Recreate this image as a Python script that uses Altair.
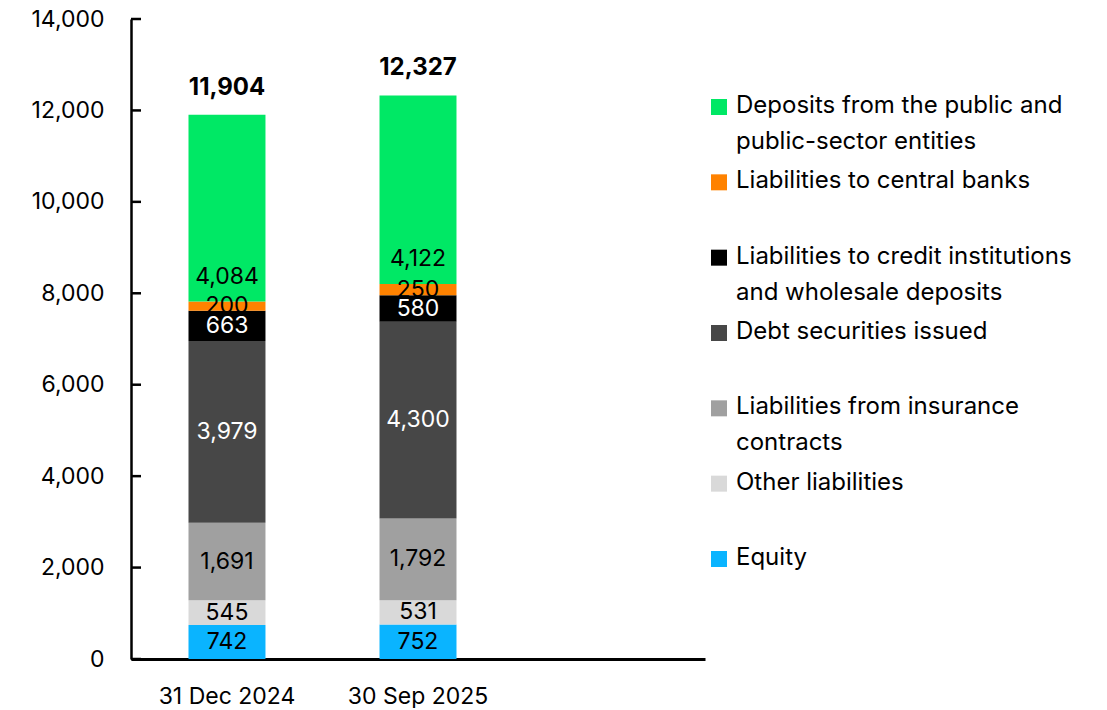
import altair as alt
import pandas as pd

DATES = ["31 Dec 2024", "30 Sep 2025"]
SERIES = [  # bottom to top
    "Equity",
    "Other liabilities",
    "Liabilities from insurance contracts",
    "Debt securities issued",
    "Liabilities to credit institutions and wholesale deposits",
    "Liabilities to central banks",
    "Deposits from the public and public-sector entities",
]
LEGEND_LABELS = [
    "Equity",
    "Other liabilities",
    "Liabilities from insurance\ncontracts",
    "Debt securities issued",
    "Liabilities to credit institutions\nand wholesale deposits",
    "Liabilities to central banks",
    "Deposits from the public and\npublic-sector entities",
]
EQUITY = [742, 752]
OTHER = [545, 531]
INSURANCE = [1691, 1792]
DEBT = [3979, 4300]
CREDIT = [663, 580]
CENTRAL = [200, 250]
DEPOSITS = [4084, 4122]
TOTALS = [11904, 12327]
VALUES = [EQUITY, OTHER, INSURANCE, DEBT, CREDIT, CENTRAL, DEPOSITS]
COLORS = ["#0AB4FF", "#D9D9D9", "#A0A0A0", "#474747", "#000000", "#FF8200", "#00E865"]
LABEL_COLORS = ["black", "black", "black", "white", "white", "black", "black"]
Y_TICKS = [0, 2000, 4000, 6000, 8000, 10000, 12000, 14000]

FONT = "Inter"

rows = []
for i, d in enumerate(DATES):
    cum = 0
    for j, s in enumerate(SERIES):
        v = VALUES[j][i]
        rows.append(dict(date=d, series=s, value=v, y0=cum, y1=cum + v,
                         mid=cum + v / 2, label=f"{v:,}", color=COLORS[j],
                         lcolor=LABEL_COLORS[j], top=(j == len(SERIES) - 1)))
        cum += v
df = pd.DataFrame(rows)
tot = pd.DataFrame(dict(date=DATES, total=TOTALS, label=[f"{t:,}" for t in TOTALS]))
ticks = pd.DataFrame(dict(v=Y_TICKS))
leg = pd.DataFrame(dict(key=SERIES[::-1], text=LEGEND_LABELS[::-1], color=COLORS[::-1]))

xscale = alt.Scale(domain=DATES + [" "], paddingInner=0.597, paddingOuter=0.301)
yscale = alt.Scale(domain=[0, 14000], nice=False, zero=True)

XAX = alt.Axis(title=None, labelAngle=0, ticks=False, labelPadding=26,
               labelFontSize=23, labelFont=FONT, labelColor="black",
               domainWidth=3, domainColor="black")
YAX = alt.Axis(title=None, values=Y_TICKS, labelExpr="format(datum.value, ',')",
               grid=False, ticks=False, labelPadding=27, labelFontSize=23,
               labelFont=FONT, labelColor="black", domainWidth=2.5, domainColor="black")


def X():
    return alt.X("date:N", scale=xscale, sort=DATES + [" "], axis=XAX)


bars = alt.Chart(df).mark_bar().encode(
    x=X(),
    y=alt.Y("y0:Q", scale=yscale, axis=YAX),
    y2="y1:Q",
    color=alt.Color("color:N", scale=None),
)

mid_labels = alt.Chart(df[~df["top"]]).mark_text(fontSize=23, font=FONT, baseline="middle").encode(
    x=X(),
    y=alt.Y("mid:Q", scale=yscale, axis=YAX),
    text="label:N",
    color=alt.Color("lcolor:N", scale=None),
)
top_labels = alt.Chart(df[df["top"]]).mark_text(fontSize=23, font=FONT, baseline="middle", dy=-25).encode(
    x=X(),
    y=alt.Y("y0:Q", scale=yscale, axis=YAX),
    text="label:N",
    color=alt.Color("lcolor:N", scale=None),
)
totals = alt.Chart(tot).mark_text(fontSize=24, font=FONT, fontWeight="bold", baseline="middle",
                                  dy=-27, color="black").encode(
    x=X(),
    y=alt.Y("total:Q", scale=yscale, axis=YAX),
    text="label:N",
)
tick_rules = alt.Chart(ticks).mark_rule(color="black", strokeWidth=2.5).encode(
    y=alt.Y("v:Q", scale=yscale, axis=YAX),
    x=alt.value(0),
    x2=alt.value(10),
)

main = alt.layer(bars, mid_labels, top_labels, totals, tick_rules)

lscale = alt.Scale(type="point", domain=SERIES[::-1], range=[88, 540], padding=0)
leg_sq = alt.Chart(leg).mark_square(size=256, opacity=1).encode(
    x=alt.value(588),
    y=alt.Y("key:N", scale=lscale, axis=None),
    color=alt.Color("color:N", scale=None),
)
leg_txt = alt.Chart(leg).mark_text(fontSize=24, font=FONT, align="left", baseline="top",
                                   dy=-13, lineBreak="\n", lineHeight=36, color="black").encode(
    x=alt.value(605),
    y=alt.Y("key:N", scale=lscale, axis=None),
    text="text:N",
)
legend = alt.layer(leg_sq, leg_txt)

chart = alt.layer(main, legend).resolve_scale(y="independent").properties(
    width=574, height=640,
    background="white",
    padding={"left": 22, "top": 0, "right": 5, "bottom": 0},
).configure_view(
    strokeWidth=0, stroke="transparent"
)

chart.save("out.html", embed_options={"renderer": "svg", "actions": False})
